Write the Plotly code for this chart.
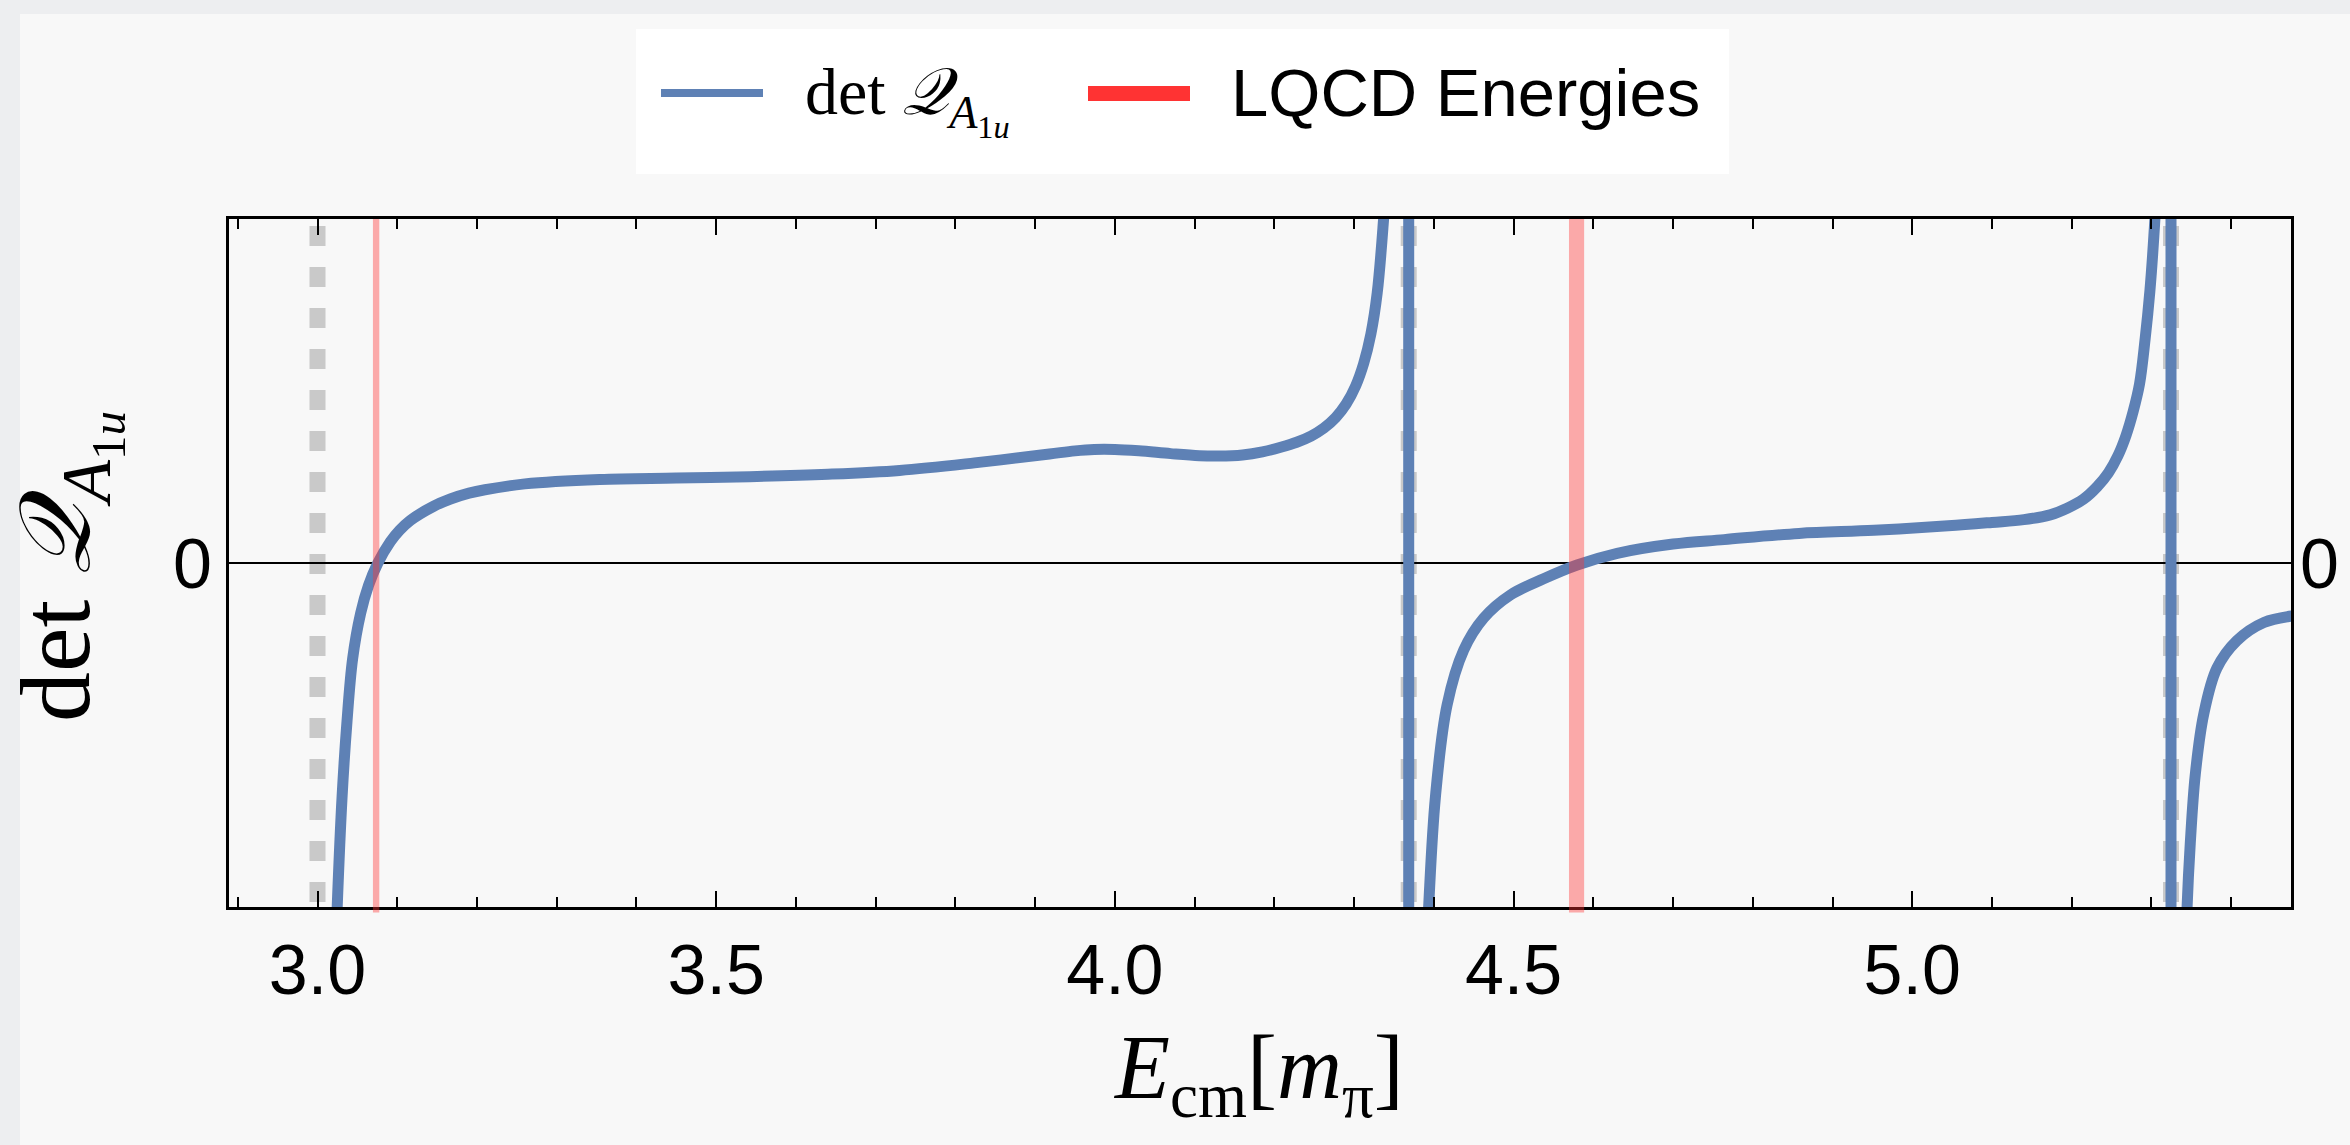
import plotly.graph_objects as go

# ---------------- data ----------------
# branch of det Q between threshold and first pole
branch1_x = [3.019, 3.0247, 3.0308, 3.037, 3.044, 3.0541, 3.064, 3.0757, 3.0914, 3.103,
             3.1165, 3.1457, 3.1667, 3.19, 3.21, 3.26, 3.354, 3.45, 3.542, 3.64, 3.73, 3.824,
             3.918, 3.95, 3.974, 4.0, 4.03, 4.07, 4.106, 4.13, 4.16, 4.185, 4.209, 4.228,
             4.246, 4.262, 4.277, 4.290, 4.302, 4.312, 4.321, 4.329, 4.337, 4.344, 4.350,
             4.356, 4.362, 4.3684]
branch1_y = [-1.4, -1.0, -0.68, -0.46, -0.279, -0.146, -0.065, 0.0, 0.062, 0.095,
             0.124, 0.165, 0.186, 0.203, 0.213, 0.230, 0.243, 0.247, 0.251, 0.258, 0.269, 0.291,
             0.317, 0.326, 0.330, 0.330, 0.326, 0.318, 0.312, 0.311, 0.314, 0.323, 0.337, 0.351,
             0.369, 0.392, 0.423, 0.462, 0.515, 0.580, 0.665, 0.785, 1.0, 1.25, 1.6,
             2.3, 4.0, 20.0]
# branch between first and second pole
branch2_x = [4.3686, 4.380, 4.387, 4.3935, 4.402, 4.4166, 4.4375, 4.4626, 4.496, 4.5377,
             4.5797, 4.63, 4.70, 4.764, 4.858, 4.952, 5.045, 5.10, 5.14, 5.173, 5.195,
             5.215, 5.232, 5.246, 5.258, 5.268, 5.277, 5.285, 5.292, 5.298, 5.303, 5.307,
             5.312, 5.317, 5.321, 5.3244]
branch2_y = [-20.0, -2.2, -1.35, -1.0, -0.68, -0.413, -0.253, -0.160, -0.093, -0.046,
             -0.006, 0.028, 0.055, 0.068, 0.086, 0.095, 0.108, 0.118, 0.126, 0.140, 0.160,
             0.186, 0.222, 0.262, 0.312, 0.37, 0.44, 0.52, 0.65, 0.79, 0.95, 1.12,
             1.45, 2.2, 4.0, 20.0]
# branch after second pole
branch3_x = [5.3246, 5.330, 5.335, 5.3447, 5.3487, 5.355, 5.3655, 5.382, 5.407, 5.441, 5.48]
branch3_y = [-20.0, -3.6, -1.9, -1.0, -0.814, -0.614, -0.44, -0.306, -0.226, -0.173, -0.153]

free_energies = [3.0, 4.3685, 5.3245]          # grey dashed lines
lqcd_centers = [3.0735, 4.579]                  # LQCD energies
lqcd_halfwidths = [0.004, 0.0095]

x_tickvals = [3.0, 3.5, 4.0, 4.5, 5.0]
x_ticktext = ["3.0", "3.5", "4.0", "4.5", "5.0"]
y_tickvals = [0]
y_ticktext = ["0"]

# ---------------- style ----------------
BLUE = "#5E81B5"
RED = "#FF3333"
BAND = "rgba(255,51,51,0.40)"
GREY = "#C9C9C9"
BG = "#F8F8F8"
OUTER = "#EDEEF0"
SANS = "Liberation Sans, Arial, sans-serif"
SERIF = "Liberation Serif, Times New Roman, serif"

W, H = 2350, 1145
L, R, T, B = 229, 2291, 219, 907


def px(xp):
    return (xp - L) / (R - L)


def py(yp):
    return (B - yp) / (B - T)


fig = go.Figure()

branches = [(branch1_x, branch1_y), (branch2_x, branch2_y), (branch3_x, branch3_y)]
for bx, by in branches:
    fig.add_trace(go.Scatter(x=bx, y=by, mode="lines",
                             line=dict(color=BLUE, width=11, shape="spline", smoothing=1.0),
                             hoverinfo="skip", showlegend=False))
# connecting segments across the poles
for (ax_, ay_), (bx_, by_) in zip(branches[:-1], branches[1:]):
    fig.add_trace(go.Scatter(x=[ax_[-1], bx_[0]], y=[ay_[-1], by_[0]], mode="lines",
                             line=dict(color=BLUE, width=11),
                             hoverinfo="skip", showlegend=False))
# dummy trace for right axis
fig.add_trace(go.Scatter(x=[None], y=[None], yaxis="y2", showlegend=False, hoverinfo="skip"))

shapes = []
# outer page background
shapes.append(dict(type="rect", xref="paper", yref="paper", layer="below",
                   x0=px(20), x1=px(W + 5), y0=py(14), y1=py(H + 5),
                   fillcolor=BG, line=dict(width=0)))
for e in free_energies:
    shapes.append(dict(type="line", xref="x", yref="y domain", layer="below",
                       x0=e, x1=e, y0=0.99, y1=0.0,
                       line=dict(color=GREY, width=16, dash="20px,21px")))
for c, hw in zip(lqcd_centers, lqcd_halfwidths):
    shapes.append(dict(type="rect", xref="x", yref="y domain", layer="above",
                       x0=c - hw, x1=c + hw, y0=-0.008, y1=1.0,
                       fillcolor=BAND, line=dict(width=0)))
# legend box
shapes.append(dict(type="rect", xref="paper", yref="paper", layer="above",
                   x0=px(636), x1=px(1729), y0=py(174), y1=py(29),
                   fillcolor="white", line=dict(width=0)))
shapes.append(dict(type="line", xref="paper", yref="paper", layer="above",
                   x0=px(661), x1=px(763), y0=py(93), y1=py(93),
                   line=dict(color=BLUE, width=8)))
shapes.append(dict(type="rect", xref="paper", yref="paper", layer="above",
                   x0=px(1088), x1=px(1190), y0=py(101), y1=py(86),
                   fillcolor=RED, line=dict(width=0)))

annotations = [
    dict(text="det <i>𝒬</i><sub><i>A</i><sub>1<i>u</i></sub></sub>", xref="paper", yref="paper",
         x=px(803), y=py(100), xanchor="left", yanchor="middle", showarrow=False,
         font=dict(family=SERIF, size=66, color="black")),
    dict(text="LQCD Energies", xref="paper", yref="paper",
         x=px(1229), y=py(92), xanchor="left", yanchor="middle", showarrow=False,
         font=dict(family=SANS, size=67, color="black")),
    dict(text="<i>E</i><sub>cm</sub>[<i>m</i><sub>π</sub>]", xref="paper", yref="paper",
         x=px(1258), y=py(1074), xanchor="center", yanchor="middle", showarrow=False,
         font=dict(family=SERIF, size=90, color="black")),
    dict(text="det <i>𝒬</i><sub><i>A</i><sub>1<i>u</i></sub></sub>", xref="paper", yref="paper",
         x=px(68), y=py(567), xanchor="center", yanchor="middle", showarrow=False,
         textangle=-90, font=dict(family=SERIF, size=100, color="black")),
]

fig.update_layout(
    width=W, height=H,
    margin=dict(l=L, r=W - R, t=T, b=H - B, pad=0),
    paper_bgcolor=OUTER, plot_bgcolor=BG,
    showlegend=False,
    shapes=shapes, annotations=annotations,
    xaxis=dict(range=[2.889, 5.475], showgrid=False, zeroline=False,
               showline=True, linecolor="black", linewidth=3, mirror="ticks",
               ticks="inside", ticklen=16, tickwidth=2, tickcolor="black",
               tickvals=x_tickvals, ticktext=x_ticktext,
               tickfont=dict(family=SANS, size=70, color="black"),
               minor=dict(dtick=0.1, tick0=0, ticks="inside", ticklen=10, tickwidth=2,
                          tickcolor="black", showgrid=False)),
    yaxis=dict(range=[-1, 1], showgrid=False, zeroline=True, zerolinecolor="black",
               zerolinewidth=2, showline=True, linecolor="black", linewidth=3, mirror=True,
               ticks="", tickvals=y_tickvals, ticktext=y_ticktext,
               tickfont=dict(family=SANS, size=70, color="black")),
    yaxis2=dict(range=[-1, 1], overlaying="y", side="right", showgrid=False, zeroline=False,
                showline=False, ticks="", tickvals=y_tickvals, ticktext=y_ticktext,
                ticklabelstandoff=8,
                tickfont=dict(family=SANS, size=70, color="black")),
)

fig.write_html("out.html")
